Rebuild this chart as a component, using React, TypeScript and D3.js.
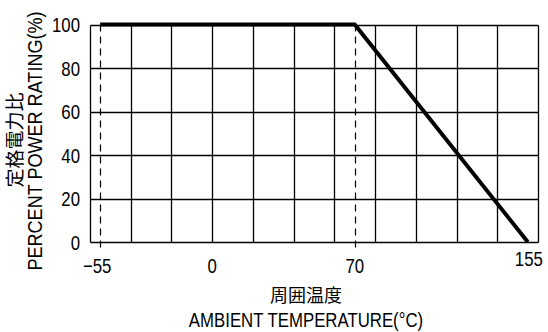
import React from "react";
import * as d3 from "d3";

const xGridValues = [-60, -40, -20, 0, 20, 40, 60, 80, 100, 120, 140, 160];
const yGridValues = [0, 20, 40, 60, 80, 100];
const xTickLabels = [-55, 0, 70, 155];
const yTickLabels = [0, 20, 40, 60, 80, 100];
const curveTemps = [-55, 70, 155];
const curveRatings = [100, 100, 0];
const dashedTemps = [-55, 70];
const xTitleJa = "周囲温度";
const xTitleEn = "AMBIENT TEMPERATURE(°C)";
const yTitleJa = "定格電力比";
const yTitleEn = "PERCENT POWER RATING(%)";

const W = 548;
const H = 332;
const LAT = "'Liberation Sans', Arial, sans-serif";
const CJK = "'Noto Sans CJK JP', sans-serif";

function T(props: {
  x: number;
  y: number;
  sx?: number;
  rot?: number;
  anchor?: string;
  size?: number;
  family?: string;
  children: React.ReactNode;
}) {
  const { x, y, sx = 0.8, rot = 0, anchor = "middle", size = 21, family = LAT } = props;
  return (
    <text
      transform={`translate(${x},${y}) rotate(${rot}) scale(${sx},1)`}
      textAnchor={anchor as any}
      fontFamily={family}
      fontSize={size}
      fill="#000"
    >
      {props.children}
    </text>
  );
}

export default function App() {
  const x = d3.scaleLinear().domain([-60, 160]).range([90, 538]);
  const y = d3.scaleLinear().domain([0, 100]).range([242, 24.5]);
  const cr = (v: number) => Math.round(v) + 0.5;
  const pts: [number, number][] = curveTemps.map((t, i) => [t, curveRatings[i]]);
  const line = d3
    .line<[number, number]>()
    .x((d) => x(d[0]))
    .y((d) => y(d[1]));
  const fmt = (v: number) => (v < 0 ? "\u2212" + Math.abs(v) : String(v));

  return (
    <svg
      width={W}
      height={H}
      style={{ position: "absolute", left: 0, top: 0, background: "#fff" }}
    >
      <rect x={0} y={0} width={W} height={H} fill="#fff" />
      {xGridValues.map((v) => (
        <line
          key={"gx" + v}
          x1={cr(x(v))}
          x2={cr(x(v))}
          y1={cr(y(100))}
          y2={cr(y(0))}
          stroke="#000"
          strokeWidth={1.3}
        />
      ))}
      {yGridValues.map((v) => (
        <line
          key={"gy" + v}
          x1={cr(x(-60))}
          x2={cr(x(160))}
          y1={cr(y(v))}
          y2={cr(y(v))}
          stroke="#000"
          strokeWidth={1.3}
        />
      ))}
      {dashedTemps.map((t) => (
        <line
          key={"d" + t}
          x1={cr(x(t))}
          x2={cr(x(t))}
          y1={y(100)}
          y2={y(0) + 6}
          stroke="#000"
          strokeWidth={1.2}
          strokeDasharray="7,5"
        />
      ))}
      <path
        d={line(pts) || ""}
        fill="none"
        stroke="#000"
        strokeWidth={4}
        strokeLinejoin="miter"
        strokeLinecap="butt"
      />
      {yTickLabels.map((v) => (
        <T key={"yl" + v} x={80} y={y(v) + 7.5} anchor="end">
          {fmt(v)}
        </T>
      ))}
      {xTickLabels.map((v) => (
        <T
          key={"xl" + v}
          x={v === 155 ? x(v) + 1 : x(v) - (v < 0 ? 3 : 0)}
          y={v === 155 ? 266 : 273}
        >
          {fmt(v)}
        </T>
      ))}
      <T x={306} y={302} family={CJK} size={18} sx={1}>
        {xTitleJa}
      </T>
      <T x={306} y={327}>
        {xTitleEn}
      </T>
      <T x={22} y={140} rot={-90} family={CJK} size={19} sx={1}>
        {yTitleJa}
      </T>
      <T x={42} y={141} rot={-90} sx={0.86}>
        {yTitleEn}
      </T>
    </svg>
  );
}
